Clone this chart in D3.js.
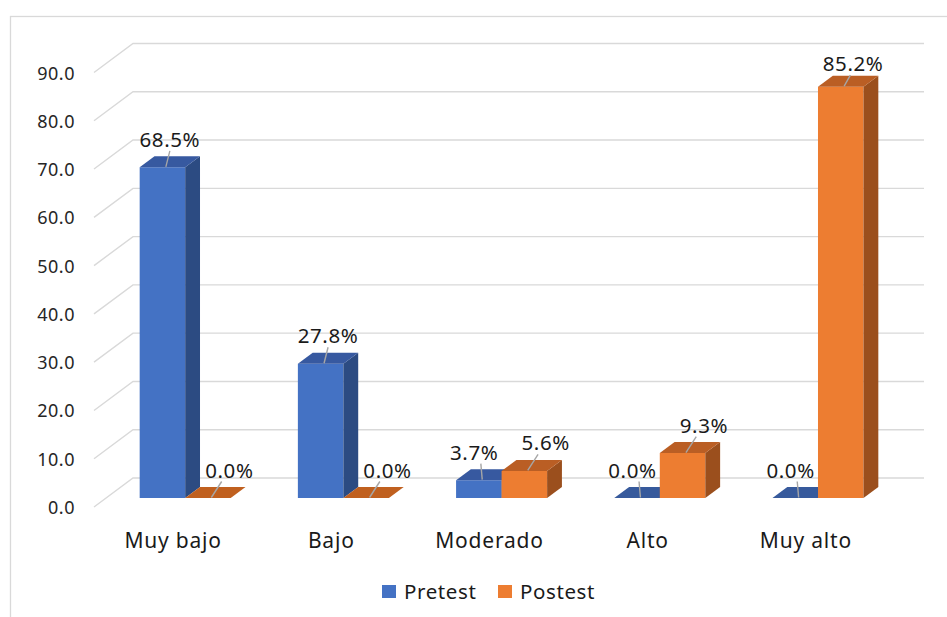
<!DOCTYPE html>
<html><head><meta charset="utf-8">
<script src="https://cdn.jsdelivr.net/npm/d3@7"></script>
<style>
html,body{margin:0;padding:0;background:#fff;}
svg{display:block;font-family:"Noto Sans",sans-serif;}
</style></head>
<body>
<svg id="chart" width="947" height="617"></svg>
<script>
const categories = ["Muy bajo", "Bajo", "Moderado", "Alto", "Muy alto"];
const seriesNames = ["Pretest", "Postest"];
const pretest = [68.5, 27.8, 3.7, 0.0, 0.0];
const postest = [0.0, 0.0, 5.6, 9.3, 85.2];
const yTicks = [0, 10, 20, 30, 40, 50, 60, 70, 80, 90];

const colors = {
  Pretest: {front: "#4472C4", side: "#2C4B82", top: "#3759A0", flat: "#375A9C"},
  Postest: {front: "#ED7D31", side: "#9B4F1D", top: "#BA5E24", flat: "#C0601F"}
};

const svg = d3.select("#chart");
const DX = 39, DY = 29;          // oblique depth offsets
const Z0 = 0.31, Z1 = 0.69;      // bar depth range

const x = d3.scaleBand().domain(categories).range([94, 885]).padding(0);
const xs = d3.scaleBand().domain(seriesNames).range([0, x.bandwidth()]).paddingInner(0).paddingOuter(0.738);
const y = d3.scaleLinear().domain([0, 90]).range([507, 72.5]);

const P = (px, v, z) => [px + z * DX, y(v) - z * DY];

// border
svg.append("rect").attr("x", 10.5).attr("y", 16.5).attr("width", 960).attr("height", 620)
  .attr("fill", "none").attr("stroke", "#D9D9D9").attr("stroke-width", 1.3);

// gridlines
const x0 = x.range()[0], x1 = x.range()[1];
svg.append("g").selectAll("path").data(yTicks).join("path")
  .attr("d", t => {
    const a = P(x0, t, 0), b = P(x0, t, 1), c = P(x1, t, 1);
    return `M${a}L${b}L${c}`;
  })
  .attr("fill", "none").attr("stroke", "#D9D9D9").attr("stroke-width", 1.4);

// y tick labels
svg.append("g").selectAll("text").data(yTicks).join("text")
  .attr("x", 75).attr("y", t => y(t) + 7)
  .attr("text-anchor", "end").attr("font-size", 18).attr("letter-spacing", 0.5)
  .attr("fill", "#262626").text(t => d3.format(".1f")(t));

// bars
const bars = [];
categories.forEach((c, i) => {
  seriesNames.forEach((s, j) => {
    const v = (j === 0 ? pretest : postest)[i];
    bars.push({c, s, j, v});
  });
});

const poly = pts => "M" + pts.map(p => p.join(",")).join("L") + "Z";
const gb = svg.append("g");
bars.forEach(d => {
  const L = x(d.c) + xs(d.s), R = L + xs.bandwidth();
  const col = colors[d.s];
  if (d.v > 0) {
    gb.append("path").attr("d", poly([P(L, 0, Z0), P(R, 0, Z0), P(R, d.v, Z0), P(L, d.v, Z0)])).attr("fill", col.front);
    gb.append("path").attr("d", poly([P(R, 0, Z0), P(R, 0, Z1), P(R, d.v, Z1), P(R, d.v, Z0)])).attr("fill", col.side);
    gb.append("path").attr("d", poly([P(L, d.v, Z0), P(R, d.v, Z0), P(R, d.v, Z1), P(L, d.v, Z1)])).attr("fill", col.top);
  } else {
    gb.append("path").attr("d", poly([P(L, 0, Z0), P(R, 0, Z0), P(R, 0, Z1), P(L, 0, Z1)])).attr("fill", col.flat);
  }
});

// data labels with leader lines
const gl = svg.append("g");
bars.forEach(d => {
  const L = x(d.c) + xs(d.s), R = L + xs.bandwidth();
  const top = P((L + R) / 2, d.v, 0.5);
  const dx = d.j === 0 ? (d.v >= 20 ? 0 : -12) : (d.v >= 20 ? 5 : 14);
  const dy = d.v >= 80 ? -17 : -22;
  const lx = top[0] + dx, ly = top[1] + dy;
  gl.append("line")
    .attr("x1", top[0] - 4).attr("y1", top[1] + 5)
    .attr("x2", top[0] + (lx - top[0]) * 0.45).attr("y2", ly + 11)
    .attr("stroke", "#A6A6A6").attr("stroke-width", 1.4);
  gl.append("text").attr("x", lx).attr("y", ly + 7)
    .attr("text-anchor", "middle").attr("font-size", 20.5).attr("letter-spacing", 0.6)
    .attr("fill", "#1a1a1a").text(d3.format(".1f")(d.v) + "%");
});

// category labels
svg.append("g").selectAll("text").data(categories).join("text")
  .attr("x", c => x(c) + x.bandwidth() / 2).attr("y", 548)
  .attr("text-anchor", "middle").attr("font-size", 21).attr("letter-spacing", 0.8)
  .attr("fill", "#1a1a1a").text(c => c);

// legend
const lg = svg.append("g").attr("transform", "translate(382,585)");
seriesNames.forEach((s, i) => {
  const g = lg.append("g").attr("transform", `translate(${i * 116},0)`);
  g.append("rect").attr("width", 14).attr("height", 13).attr("fill", colors[s].front);
  g.append("text").attr("x", 22).attr("y", 13.5).attr("font-size", 20.5).attr("letter-spacing", 0.6)
    .attr("fill", "#1a1a1a").text(s);
});
</script>
</body></html>
